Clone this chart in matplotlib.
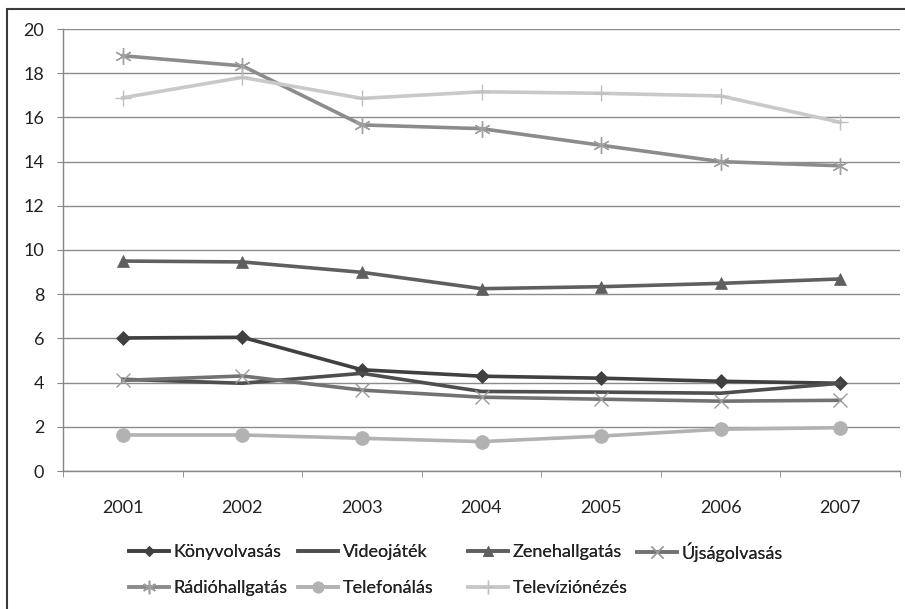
import matplotlib
matplotlib.use("Agg")
import matplotlib.pyplot as plt
from matplotlib.patches import Rectangle

plt.rcParams['font.family'] = ['Lato', 'DejaVu Sans']

years = ['2001', '2002', '2003', '2004', '2005', '2006', '2007']

konyvolvasas = [6.02, 6.05, 4.58, 4.29, 4.20, 4.06, 3.97]
videojatek = [4.15, 3.97, 4.42, 3.60, 3.57, 3.52, 3.97]
zenehallgatas = [9.50, 9.46, 8.99, 8.25, 8.34, 8.49, 8.69]
ujsagolvasas = [4.10, 4.30, 3.66, 3.34, 3.25, 3.16, 3.20]
radiohallgatas = [18.79, 18.33, 15.66, 15.49, 14.74, 14.00, 13.81]
telefonalas = [1.63, 1.63, 1.48, 1.33, 1.58, 1.89, 1.96]
televizionezes = [16.89, 17.81, 16.86, 17.16, 17.09, 16.97, 15.78]

# label, values, line colour, marker, marker size, marker colour
series = [
    ('Könyvolvasás', konyvolvasas, '#404040', 'D', 7, '#404040'),
    ('Videojáték', videojatek, '#4e4e4e', None, 0, '#4e4e4e'),
    ('Zenehallgatás', zenehallgatas, '#5f5f5f', '^', 9, '#5f5f5f'),
    ('Újságolvasás', ujsagolvasas, '#727272', 'x', 10, '#9a9a9a'),
    ('Rádióhallgatás', radiohallgatas, '#8c8c8c', (6, 2, 0), 12, '#a0a0a0'),
    ('Telefonálás', telefonalas, '#b2b2b2', 'o', 10, '#b2b2b2'),
    ('Televíziónézés', televizionezes, '#c9c9c9', '+', 12, '#c0c0c0'),
]

W, H = 905, 609
fig = plt.figure(figsize=(W / 100, H / 100), dpi=100)
ax = fig.add_axes([63 / W, 1 - 471 / H, 837 / W, 442 / H])

x = list(range(len(years)))
handles = []
for label, vals, col, mk, ms, mcol in series:
    h, = ax.plot(x, vals, color=col, lw=2.6, marker=mk, markersize=ms,
                 markerfacecolor=mcol, markeredgecolor=mcol,
                 markeredgewidth=1.0 if mk in ('x', '+', (6, 2, 0)) else 0.5,
                 solid_joinstyle='round', label=label, zorder=3)
    handles.append(h)

ax.set_xlim(-0.5, len(years) - 0.5)
ax.set_ylim(0, 20)
ax.set_yticks(range(0, 21, 2))
ax.set_xticks(x)
ax.set_xticklabels(years)
ax.set_xticks([i - 0.5 for i in range(len(years) + 1)], minor=True)
ax.tick_params(axis='x', which='major', length=0, pad=21, labelsize=13, labelcolor='#222222')
ax.tick_params(axis='x', which='minor', length=4.5, color='#868686', direction='out')
ax.tick_params(axis='y', length=4.5, color='#868686', direction='out', pad=9,
               labelsize=13, labelcolor='#222222')
ax.yaxis.grid(True, color='#8c8c8c', lw=1)
ax.set_axisbelow(True)
for s in ['top', 'right']:
    ax.spines[s].set_visible(False)
for s in ['left', 'bottom']:
    ax.spines[s].set_color('#868686')
    ax.spines[s].set_linewidth(1)

# legend: fixed grid of 4 columns, rows filled left to right (Excel style)
col_x = [129, 298, 468, 637]
row_y = [552, 588]
leg_kw = dict(frameon=False, fontsize=13, handlelength=2.2, handletextpad=0.28,
              borderaxespad=0, borderpad=0, labelcolor='#222222', markerscale=0.8)
for i, h in enumerate(handles):
    r, c = divmod(i, 4)
    leg = fig.legend(handles=[h], loc='center left',
                     bbox_to_anchor=(col_x[c] / W, 1 - row_y[r] / H), **leg_kw)
    fig.add_artist(leg)

# outer chart border (cropped at right and bottom)
fig.patches.append(Rectangle((7 / W, -0.05), 1.0, 1 - 9 / H + 0.05,
                             transform=fig.transFigure, fill=False,
                             edgecolor='#3a3a3a', lw=1.5))

fig.savefig('out.png', dpi=100)
